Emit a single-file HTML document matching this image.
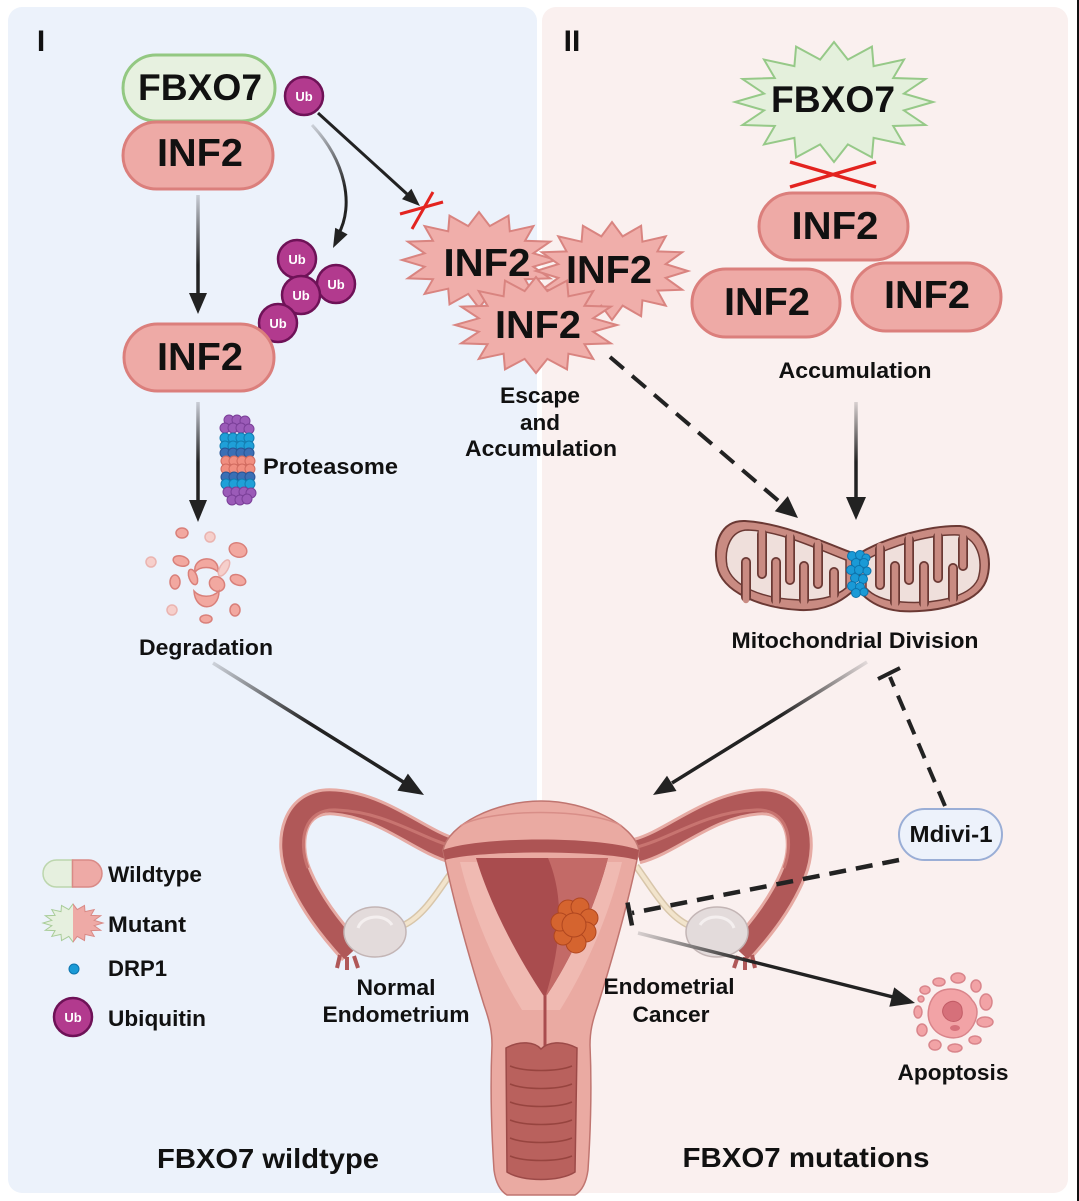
<!DOCTYPE html>
<html><head><meta charset="utf-8"><style>
html,body{margin:0;padding:0;background:#fff;}
svg{display:block;}
text{font-family:"Liberation Sans",Arial,sans-serif;font-weight:700;fill:#111;}
</style></head><body>
<svg width="1079" height="1201" viewBox="0 0 1079 1201" xmlns="http://www.w3.org/2000/svg">
<defs>
<polygon id="star" vector-effect="non-scaling-stroke" points="100,0 70.6,14 92.4,38.3 59.8,40 70.7,70.7 40,59.8 38.3,92.4 14,70.6 0,100 -14,70.6 -38.3,92.4 -40,59.8 -70.7,70.7 -59.8,40 -92.4,38.3 -70.6,14 -100,0 -70.6,-14 -92.4,-38.3 -59.8,-40 -70.7,-70.7 -40,-59.8 -38.3,-92.4 -14,-70.6 0,-100 14,-70.6 38.3,-92.4 40,-59.8 70.7,-70.7 59.8,-40 92.4,-38.3 70.6,-14"/>
<clipPath id="cl" clipPathUnits="userSpaceOnUse"><rect x="0" y="890" width="73" height="60"/></clipPath>
<clipPath id="cr" clipPathUnits="userSpaceOnUse"><rect x="73" y="890" width="60" height="60"/></clipPath>
<linearGradient id="g1" gradientUnits="userSpaceOnUse" x1="198" y1="195" x2="198" y2="265"><stop offset="0" stop-color="#c9cdd6"/><stop offset="1" stop-color="#222"/></linearGradient>
<linearGradient id="g2" gradientUnits="userSpaceOnUse" x1="198" y1="402" x2="198" y2="462"><stop offset="0" stop-color="#c9cdd6"/><stop offset="1" stop-color="#222"/></linearGradient>
<linearGradient id="g3" gradientUnits="userSpaceOnUse" x1="213" y1="663" x2="310" y2="724"><stop offset="0" stop-color="#cdd2da"/><stop offset="1" stop-color="#222"/></linearGradient>
<linearGradient id="g4" gradientUnits="userSpaceOnUse" x1="312" y1="125" x2="345" y2="190"><stop offset="0" stop-color="#cdd2da"/><stop offset="1" stop-color="#222"/></linearGradient>
<linearGradient id="g7" gradientUnits="userSpaceOnUse" x1="856" y1="402" x2="856" y2="462"><stop offset="0" stop-color="#d8d0d0"/><stop offset="1" stop-color="#222"/></linearGradient>
<linearGradient id="g8" gradientUnits="userSpaceOnUse" x1="867" y1="662" x2="780" y2="716"><stop offset="0" stop-color="#e2dada"/><stop offset="1" stop-color="#222"/></linearGradient>
<linearGradient id="g11" gradientUnits="userSpaceOnUse" x1="638" y1="933" x2="750" y2="961"><stop offset="0" stop-color="#d8d0d0"/><stop offset="1" stop-color="#222"/></linearGradient>
</defs>

<!-- panels -->
<rect x="8" y="7" width="529" height="1186" rx="14" fill="#ecf2fb"/>
<rect x="542" y="7" width="526" height="1186" rx="14" fill="#faf0ef"/>
<rect x="1077" y="0" width="2" height="1201" fill="#111"/>

<text x="41" y="51" font-size="30" text-anchor="middle">I</text>
<text x="572" y="51" font-size="30" text-anchor="middle">II</text>

<!-- ===== LEFT ===== -->
<rect x="123" y="55" width="152" height="66" rx="33" fill="#e7f1e0" stroke="#93c882" stroke-width="3"/>
<text x="200" y="100" font-size="37" text-anchor="middle" textLength="124" lengthAdjust="spacingAndGlyphs">FBXO7</text>
<rect x="123" y="122" width="150" height="67" rx="33.5" fill="#eeaaa6" stroke="#db7f7c" stroke-width="3"/>
<text x="200" y="166" font-size="39" text-anchor="middle" textLength="86" lengthAdjust="spacingAndGlyphs">INF2</text>

<circle cx="304" cy="96" r="19" fill="#b23a8e" stroke="#6e1257" stroke-width="2.5"/>
<text x="304" y="101" font-size="13" text-anchor="middle" style="fill:#fff">Ub</text>

<!-- curved arrow -->
<path d="M312,125 C345,160 355,205 338,235" fill="none" stroke="url(#g4)" stroke-width="3"/>
<polygon points="333,248 347.6,234.4 335.2,227.8" fill="#222"/>
<!-- straight arrow to X -->
<line x1="318" y1="113" x2="407" y2="194" stroke="#222" stroke-width="3"/>
<polygon points="420,206 402,199.1 411.4,188.7" fill="#222"/>
<line x1="400" y1="214" x2="443" y2="202" stroke="#e3231f" stroke-width="3"/>
<line x1="412" y1="229" x2="433" y2="192" stroke="#e3231f" stroke-width="3"/>

<!-- arrow 1 -->
<line x1="198" y1="195" x2="198" y2="296" stroke="url(#g1)" stroke-width="3.5"/>
<polygon points="198,314 189,293 207,293" fill="#222"/>

<!-- Ub cluster -->
<g stroke="#6e1257" stroke-width="2.5" fill="#b23a8e">
<circle cx="297" cy="259" r="19"/>
<circle cx="336" cy="284" r="19"/>
<circle cx="301" cy="295" r="19"/>
<circle cx="278" cy="323" r="19"/>
</g>
<g font-size="13" text-anchor="middle">
<text x="297" y="264" style="fill:#fff">Ub</text>
<text x="336" y="289" style="fill:#fff">Ub</text>
<text x="301" y="300" style="fill:#fff">Ub</text>
<text x="278" y="328" style="fill:#fff">Ub</text>
</g>

<rect x="124" y="324" width="150" height="67" rx="33.5" fill="#eeaaa6" stroke="#db7f7c" stroke-width="3"/>
<text x="200" y="370" font-size="39" text-anchor="middle" textLength="86" lengthAdjust="spacingAndGlyphs">INF2</text>

<!-- arrow 2 -->
<line x1="198" y1="402" x2="198" y2="503" stroke="url(#g2)" stroke-width="3.5"/>
<polygon points="198,522 189,500 207,500" fill="#222"/>

<!-- proteasome -->
<g stroke-width="1">
<g fill="#9b5bb8" stroke="#7a3f98"><circle cx="229" cy="420" r="5"/><circle cx="237" cy="420" r="5"/><circle cx="245" cy="421" r="5"/>
<circle cx="225" cy="428" r="5"/><circle cx="233" cy="428" r="5"/><circle cx="241" cy="428" r="5"/><circle cx="249" cy="429" r="5"/></g>
<g fill="#1fa0d8" stroke="#137cb0"><circle cx="225" cy="438" r="5"/><circle cx="233" cy="438" r="5"/><circle cx="241" cy="438" r="5"/><circle cx="249" cy="438" r="5"/>
<circle cx="225" cy="446" r="5"/><circle cx="233" cy="446" r="5"/><circle cx="241" cy="446" r="5"/><circle cx="249" cy="446" r="5"/></g>
<g fill="#3b6fb5" stroke="#2a5494"><circle cx="225" cy="453" r="5"/><circle cx="233" cy="453" r="5"/><circle cx="241" cy="453" r="5"/><circle cx="249" cy="453" r="5"/></g>
<g fill="#f08e80" stroke="#d06a5e"><circle cx="226" cy="461" r="5"/><circle cx="234" cy="461" r="5"/><circle cx="242" cy="461" r="5"/><circle cx="250" cy="461" r="5"/>
<circle cx="226" cy="469" r="5"/><circle cx="234" cy="469" r="5"/><circle cx="242" cy="469" r="5"/><circle cx="250" cy="469" r="5"/></g>
<g fill="#3b6fb5" stroke="#2a5494"><circle cx="226" cy="477" r="5"/><circle cx="234" cy="477" r="5"/><circle cx="242" cy="477" r="5"/><circle cx="250" cy="477" r="5"/></g>
<g fill="#1fa0d8" stroke="#137cb0"><circle cx="226" cy="484" r="5"/><circle cx="234" cy="484" r="5"/><circle cx="242" cy="484" r="5"/><circle cx="250" cy="484" r="5"/></g>
<g fill="#9b5bb8" stroke="#7a3f98"><circle cx="228" cy="492" r="5"/><circle cx="236" cy="492" r="5"/><circle cx="244" cy="492" r="5"/><circle cx="251" cy="493" r="5"/>
<circle cx="232" cy="500" r="5"/><circle cx="240" cy="500" r="5"/><circle cx="247" cy="499" r="5"/></g>
</g>
<text x="263" y="474" font-size="22" textLength="135" lengthAdjust="spacingAndGlyphs">Proteasome</text>

<!-- degradation fragments -->
<g fill="#f2a8a0" stroke="#d9807a" stroke-width="1.5">
<ellipse cx="182" cy="533" rx="6" ry="5"/>
<ellipse cx="238" cy="550" rx="9" ry="7" transform="rotate(20 238 550)"/>
<ellipse cx="181" cy="561" rx="8" ry="5" transform="rotate(15 181 561)"/>
<path d="M195,572 C192,556 220,553 218,572 C212,566 200,566 195,572 Z"/>
<ellipse cx="175" cy="582" rx="5" ry="7"/>
<ellipse cx="193" cy="577" rx="4" ry="8" transform="rotate(-20 193 577)"/>
<ellipse cx="217" cy="584" rx="8" ry="7" transform="rotate(40 217 584)"/>
<ellipse cx="238" cy="580" rx="8" ry="5" transform="rotate(20 238 580)"/>
<path d="M194,591 C195,612 219,612 219,591 C212,598 200,598 194,591 Z"/>
<ellipse cx="206" cy="619" rx="6" ry="4"/>
<ellipse cx="235" cy="610" rx="5" ry="6"/>
</g>
<g fill="#f6cfcb" stroke="#eab4b0" stroke-width="1.5">
<ellipse cx="210" cy="537" rx="5" ry="5"/>
<ellipse cx="151" cy="562" rx="5" ry="5"/>
<ellipse cx="224" cy="568" rx="4" ry="9" transform="rotate(30 224 568)"/>
<ellipse cx="172" cy="610" rx="5" ry="5"/>
</g>
<text x="206" y="655" font-size="22" text-anchor="middle" textLength="134" lengthAdjust="spacingAndGlyphs">Degradation</text>

<!-- spiky INF2 -->
<g fill="#f0aeaa" stroke="#d98480" stroke-width="2">
<use href="#star" transform="translate(479,260) scale(0.77,0.48)"/>
<use href="#star" transform="translate(612,271) scale(0.76,0.49)"/>
<use href="#star" transform="translate(536,325) scale(0.81,0.48)"/>
</g>
<text x="487" y="276" font-size="39" text-anchor="middle" textLength="87" lengthAdjust="spacingAndGlyphs">INF2</text>
<text x="609" y="283" font-size="39" text-anchor="middle" textLength="86" lengthAdjust="spacingAndGlyphs">INF2</text>
<text x="538" y="338" font-size="39" text-anchor="middle" textLength="86" lengthAdjust="spacingAndGlyphs">INF2</text>
<text x="540" y="403" font-size="22" text-anchor="middle" textLength="80" lengthAdjust="spacingAndGlyphs">Escape</text>
<text x="540" y="430" font-size="22" text-anchor="middle" textLength="40" lengthAdjust="spacingAndGlyphs">and</text>
<text x="541" y="456" font-size="22" text-anchor="middle" textLength="152" lengthAdjust="spacingAndGlyphs">Accumulation</text>

<!-- ===== RIGHT ===== -->
<use href="#star" transform="translate(834,102) scale(0.99,0.6)" fill="#e4f0dc" stroke="#96c988" stroke-width="2"/>
<text x="833" y="112" font-size="37" text-anchor="middle" textLength="124" lengthAdjust="spacingAndGlyphs">FBXO7</text>
<line x1="790" y1="162" x2="876" y2="187" stroke="#e3231f" stroke-width="3.5"/>
<line x1="790" y1="187" x2="876" y2="162" stroke="#e3231f" stroke-width="3.5"/>

<rect x="759" y="193" width="149" height="67" rx="33.5" fill="#eeaaa6" stroke="#db7f7c" stroke-width="3"/>
<text x="835" y="239" font-size="39" text-anchor="middle" textLength="87" lengthAdjust="spacingAndGlyphs">INF2</text>
<rect x="692" y="269" width="148" height="68" rx="34" fill="#eeaaa6" stroke="#db7f7c" stroke-width="3"/>
<text x="767" y="315" font-size="39" text-anchor="middle" textLength="86" lengthAdjust="spacingAndGlyphs">INF2</text>
<rect x="852" y="263" width="149" height="68" rx="34" fill="#eeaaa6" stroke="#db7f7c" stroke-width="3"/>
<text x="927" y="308" font-size="39" text-anchor="middle" textLength="86" lengthAdjust="spacingAndGlyphs">INF2</text>
<text x="855" y="378" font-size="22" text-anchor="middle" textLength="153" lengthAdjust="spacingAndGlyphs">Accumulation</text>

<!-- dashed arrow to mito -->
<line x1="610" y1="357" x2="781" y2="503" stroke="#222" stroke-width="4" stroke-dasharray="18 11"/>
<polygon points="798,518 774.8,511.3 787.8,496.1" fill="#222"/>
<!-- vertical arrow -->
<line x1="856" y1="402" x2="856" y2="500" stroke="url(#g7)" stroke-width="3.5"/>
<polygon points="856,520 846,497 866,497" fill="#222"/>

<!-- mitochondria -->
<g stroke="#6b3934" stroke-width="2">
<path d="M852,553 C820,540 780,523 745,521 C720,520 713,545 717,566 C722,592 760,608 800,610 C825,611 840,602 852,592 Z" fill="#c98b82"/>
<path d="M860,553 C885,538 930,525 960,526 C986,528 994,560 986,581 C976,606 930,613 900,611 C880,609 868,601 860,592 Z" fill="#c98b82"/>
<path d="M846,560 C815,548 780,531 748,530 C731,530 724,548 727,566 C732,586 762,599 800,600 C822,601 838,595 846,588 Z" fill="#efdfdb" stroke-width="1.5"/>
<path d="M866,560 C890,546 930,534 958,535 C977,537 984,560 978,579 C969,599 930,604 902,602 C884,601 872,595 866,588 Z" fill="#efdfdb" stroke-width="1.5"/>
</g>
<g fill="none" stroke-linecap="round">
<g stroke="#6b3934" stroke-width="10">
<path d="M762,534 L762,574 M790,538 L790,580 M818,546 L818,584 M746,597 L746,562 M776,600 L776,562 M804,600 L804,566 M834,594 L834,572 M880,549 L880,585 M909,540 L909,580 M938,537 L938,578 M963,539 L963,566 M895,602 L895,566 M924,603 L924,566 M953,598 L953,568"/>
</g>
<g stroke="#c98b82" stroke-width="6.5">
<path d="M762,531 L762,574 M790,535 L790,580 M818,543 L818,584 M746,600 L746,562 M776,603 L776,562 M804,603 L804,566 M834,597 L834,572 M880,546 L880,585 M909,537 L909,580 M938,534 L938,578 M963,536 L963,566 M895,605 L895,566 M924,606 L924,566 M953,601 L953,568"/>
</g>
</g>
<g fill="#1a9ad6" stroke="#0d74ad" stroke-width="1">
<circle cx="852" cy="556" r="4.5"/><circle cx="860" cy="555" r="4.5"/><circle cx="866" cy="558" r="4"/>
<circle cx="856" cy="563" r="4.5"/><circle cx="864" cy="563" r="4.5"/>
<circle cx="851" cy="570" r="4.5"/><circle cx="859" cy="570" r="4.5"/><circle cx="867" cy="571" r="4"/>
<circle cx="855" cy="578" r="4.5"/><circle cx="863" cy="579" r="4.5"/>
<circle cx="852" cy="586" r="4.5"/><circle cx="860" cy="587" r="4.5"/>
<circle cx="856" cy="593" r="4.5"/><circle cx="864" cy="592" r="4"/>
</g>
<text x="855" y="648" font-size="22" text-anchor="middle" textLength="247" lengthAdjust="spacingAndGlyphs">Mitochondrial Division</text>

<!-- ===== UTERUS ===== -->
<g id="sideL">
<path d="M404,925 C425,915 440,888 456,866" fill="none" stroke="#d8c6aa" stroke-width="7"/>
<path d="M404,925 C425,915 440,888 456,866" fill="none" stroke="#f2e4cc" stroke-width="4"/>
<path d="M455,851 C420,842 385,806 335,802 C293,798 286,842 298,872 C310,902 330,928 352,952" fill="none" stroke="#e6aaa3" stroke-width="27"/>
<path d="M455,851 C420,842 385,806 335,802 C293,798 286,842 298,872 C310,902 330,928 352,952" fill="none" stroke="#b05858" stroke-width="21"/>
<path d="M455,847 C420,838 387,812 337,810 C303,808 298,842 308,868" fill="none" stroke="#c87470" stroke-width="3"/>
<path d="M340,955 L337,968 M347,957 L347,970 M354,956 L358,968 M350,940 L362,934" stroke="#b05858" stroke-width="4" fill="none"/>
<ellipse cx="375" cy="932" rx="31" ry="25" fill="#e3dbdb" stroke="#c3b5b5" stroke-width="1.5"/>
<path d="M358,928 C362,915 385,913 392,925" fill="none" stroke="#f4efef" stroke-width="3"/>
</g>
<use href="#sideL" transform="translate(1092,0) scale(-1,1)"/>

<!-- body -->
<path d="M443,850 C448,825 495,801 541,801 C587,801 634,825 639,850 C628,905 612,960 598,1005 C592,1022 590,1032 590,1045 C592,1090 590,1140 588,1170 C586,1185 580,1192 575,1195 L507,1195 C502,1192 496,1185 494,1170 C492,1140 490,1090 492,1045 C492,1032 490,1022 484,1005 C470,960 454,905 443,850 Z" fill="#eaaaa2" stroke="#c07570" stroke-width="1.5"/>
<path d="M460,826 C490,808 592,808 622,826" fill="none" stroke="#d88e88" stroke-width="1.5"/>
<path d="M443,850 C480,836 600,836 639,850 L637,860 C600,850 480,850 445,860 Z" fill="#ad5454"/>
<path d="M460,862 L622,862 C610,912 588,965 560,1010 L522,1010 C494,965 472,912 460,862 Z" fill="#f0bab2"/>
<path d="M476,858 L608,858 C596,905 572,958 545,998 C518,958 490,905 476,858 Z" fill="#a94c4e"/>
<path d="M548,858 L608,858 C596,905 572,958 545,998 C560,950 566,900 548,858 Z" fill="#c36a67"/>
<line x1="545" y1="996" x2="545" y2="1047" stroke="#a94c4e" stroke-width="3"/>
<path d="M506,1048 C520,1040 535,1042 541,1049 C548,1042 562,1040 577,1048 L575,1172 C560,1182 522,1182 507,1172 Z" fill="#b9615d" stroke="#9c4a48" stroke-width="1.5"/>
<g fill="none" stroke="#97443f" stroke-width="1.5">
<path d="M510,1066 C525,1072 557,1072 572,1066"/>
<path d="M510,1084 C525,1090 557,1090 572,1084"/>
<path d="M510,1102 C525,1108 557,1108 572,1102"/>
<path d="M510,1120 C525,1126 557,1126 572,1120"/>
<path d="M510,1138 C525,1144 557,1144 572,1138"/>
<path d="M510,1156 C525,1162 557,1162 572,1156"/>
</g>
<!-- tumor -->
<g fill="#d5642f" stroke="#b0461f" stroke-width="1">
<circle cx="568" cy="910" r="10"/><circle cx="580" cy="907" r="9"/><circle cx="589" cy="918" r="9"/>
<circle cx="586" cy="932" r="10"/><circle cx="576" cy="943" r="10"/><circle cx="563" cy="936" r="9"/>
<circle cx="560" cy="922" r="9"/><circle cx="574" cy="925" r="12"/>
</g>

<text x="396" y="995" font-size="22" text-anchor="middle" textLength="79" lengthAdjust="spacingAndGlyphs">Normal</text>
<text x="396" y="1022" font-size="22" text-anchor="middle" textLength="147" lengthAdjust="spacingAndGlyphs">Endometrium</text>
<text x="669" y="994" font-size="22" text-anchor="middle" textLength="131" lengthAdjust="spacingAndGlyphs">Endometrial</text>
<text x="671" y="1022" font-size="22" text-anchor="middle" textLength="77" lengthAdjust="spacingAndGlyphs">Cancer</text>

<!-- arrow 3 (left to uterus) -->
<line x1="213" y1="663" x2="405" y2="783" stroke="url(#g3)" stroke-width="3.5"/>
<polygon points="424,795 397.4,790.6 407.9,773.6" fill="#222"/>
<!-- arrow 8 (mito to uterus) -->
<line x1="867" y1="662" x2="672" y2="783" stroke="url(#g8)" stroke-width="3.5"/>
<polygon points="653,795 676.5,791 667,775.8" fill="#222"/>

<!-- Mdivi-1 -->
<rect x="899" y="809" width="103" height="51" rx="25.5" fill="#edf2fb" stroke="#9aaed6" stroke-width="2"/>
<text x="951" y="842" font-size="23" text-anchor="middle" textLength="83" lengthAdjust="spacingAndGlyphs">Mdivi-1</text>
<line x1="945" y1="806" x2="890" y2="677" stroke="#222" stroke-width="4" stroke-dasharray="16 10"/>
<line x1="878" y1="679" x2="900" y2="668" stroke="#222" stroke-width="4"/>
<line x1="899" y1="860" x2="632" y2="913" stroke="#222" stroke-width="4.5" stroke-dasharray="17 10"/>
<line x1="627.5" y1="902.5" x2="632" y2="925.5" stroke="#222" stroke-width="4.5"/>

<!-- arrow to apoptosis -->
<line x1="638" y1="933" x2="893" y2="997" stroke="url(#g11)" stroke-width="3.5"/>
<polygon points="915,1003 889.3,1006.8 894.2,987.4" fill="#222"/>

<!-- apoptosis -->
<g fill="#f2a3a6" stroke="#d9858b" stroke-width="1.5">
<path d="M935,995 C945,985 965,988 972,1000 C982,1010 975,1025 968,1032 C958,1042 940,1038 933,1028 C925,1018 928,1003 935,995 Z"/>
<ellipse cx="925" cy="990" rx="5" ry="4"/><ellipse cx="939" cy="982" rx="6" ry="4"/>
<ellipse cx="958" cy="978" rx="7" ry="5"/><ellipse cx="976" cy="986" rx="5" ry="6"/>
<ellipse cx="986" cy="1002" rx="6" ry="8"/><ellipse cx="985" cy="1022" rx="8" ry="5"/>
<ellipse cx="975" cy="1040" rx="6" ry="4"/><ellipse cx="955" cy="1048" rx="7" ry="4"/>
<ellipse cx="935" cy="1045" rx="6" ry="5"/><ellipse cx="922" cy="1030" rx="5" ry="6"/>
<ellipse cx="918" cy="1012" rx="4" ry="6"/><ellipse cx="921" cy="999" rx="3" ry="3"/>
</g>
<path d="M945,1005 C952,998 962,1002 962,1010 C964,1020 955,1024 948,1020 C942,1016 941,1010 945,1005 Z" fill="#d6707a" stroke="#c25c66" stroke-width="1"/>
<ellipse cx="955" cy="1028" rx="5" ry="3" fill="#d6707a"/>
<text x="953" y="1080" font-size="22" text-anchor="middle" textLength="111" lengthAdjust="spacingAndGlyphs">Apoptosis</text>

<!-- legend -->
<path d="M56.5,860 H72.5 V887 H56.5 A13.5,13.5 0 0 1 56.5,860 Z" fill="#e6f0df" stroke="#bcd6ad" stroke-width="1.5"/>
<path d="M72.5,860 H88.5 A13.5,13.5 0 0 1 88.5,887 H72.5 Z" fill="#eeaaa6" stroke="#d98a86" stroke-width="1.5"/>
<text x="108" y="882" font-size="22" textLength="94" lengthAdjust="spacingAndGlyphs">Wildtype</text>
<g clip-path="url(#cl)">
<use href="#star" transform="translate(73,923) scale(0.30,0.19)" fill="#e6f0df" stroke="#a8cc98" stroke-width="1"/>
</g>
<g clip-path="url(#cr)">
<use href="#star" transform="translate(73,923) scale(0.30,0.19)" fill="#eeaaa6" stroke="#d98a86" stroke-width="1"/>
</g>
<text x="108" y="932" font-size="22" textLength="78" lengthAdjust="spacingAndGlyphs">Mutant</text>
<circle cx="74" cy="969" r="5" fill="#1a9ad6" stroke="#0d74ad" stroke-width="1"/>
<text x="108" y="976" font-size="22" textLength="59" lengthAdjust="spacingAndGlyphs">DRP1</text>
<circle cx="73" cy="1017" r="19" fill="#b23a8e" stroke="#6e1257" stroke-width="2.5"/>
<text x="73" y="1022" font-size="13" text-anchor="middle" style="fill:#fff">Ub</text>
<text x="108" y="1026" font-size="22" textLength="98" lengthAdjust="spacingAndGlyphs">Ubiquitin</text>

<text x="268" y="1168" font-size="28" text-anchor="middle" textLength="222" lengthAdjust="spacingAndGlyphs">FBXO7 wildtype</text>
<text x="806" y="1167" font-size="28" text-anchor="middle" textLength="247" lengthAdjust="spacingAndGlyphs">FBXO7 mutations</text>
</svg>
</body></html>
